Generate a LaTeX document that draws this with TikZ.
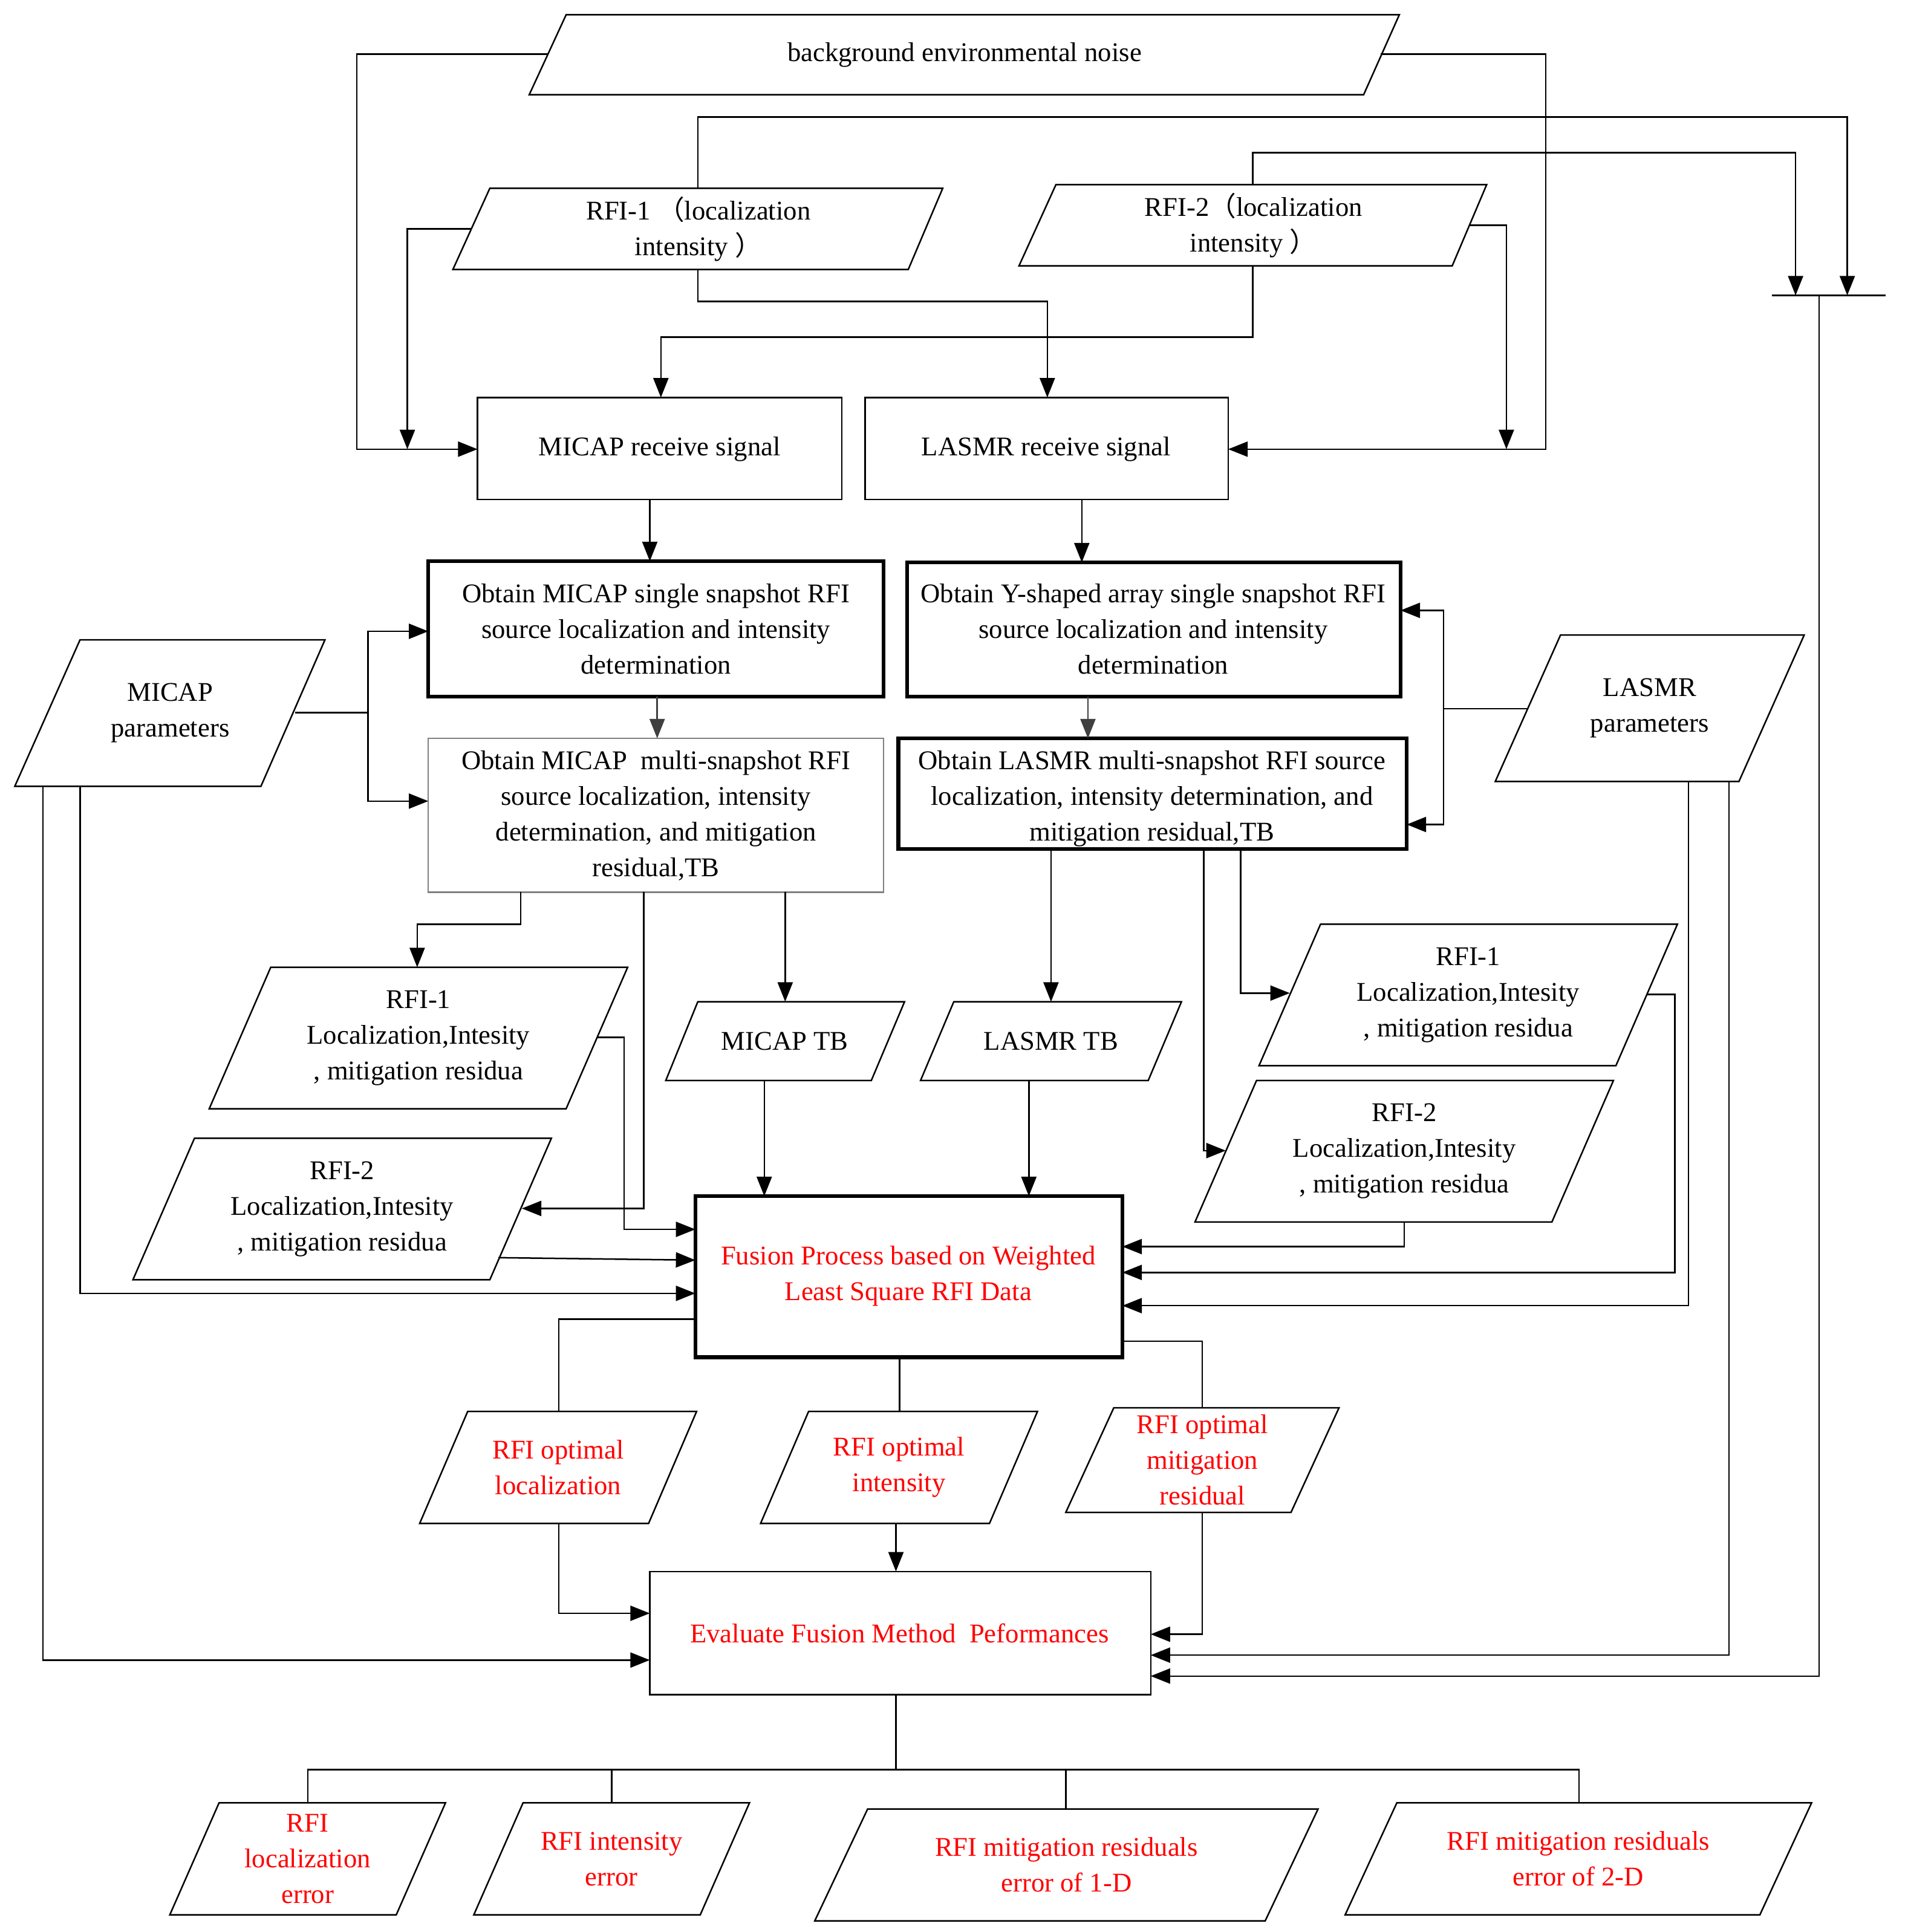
\documentclass[tikz,border=0pt]{standalone}
\usepackage{fontspec}
\setmainfont{Liberation Serif}
\newfontfamily\cjk{Noto Sans CJK SC}
\usetikzlibrary{arrows.meta}
\tikzset{
  ln/.style={line width=0.7pt},
  ar/.style={line width=0.7pt,-{Triangle[length=9pt,width=7pt]}},
  box/.style={line width=0.7pt},
  thick box/.style={line width=1.8pt},
  txt/.style={align=center,font=\fontsize{12.5}{16.5}\selectfont},
  rtxt/.style={txt,text=red}
}
% \para{name}{TLx}{TRx}{BLx}{BRx}{ytop}{ybot}{style}{text}
\newcommand{\para}[9]{%
  \draw[box] (#2,#6) -- (#3,#6) -- (#5,#7) -- (#4,#7) -- cycle;
  \node[#8] (#1) at ({(#2+#3+#4+#5)/4},{(#6+#7)/2}) {#9};}
\begin{document}
\begin{tikzpicture}[x=0.02cm,y=-0.02cm]
\useasboundingbox (0,0) rectangle (1550,1570);
% parallelograms
\para{noise}{460}{1137}{430}{1108}{12}{77}{txt}{background environmental noise}
\para{rfia}{398}{766}{368}{738}{153}{219}{txt}{RFI-1 {\cjk（}localization\\intensity {\cjk）}}
\para{rfib}{858}{1208}{828}{1180}{150}{216}{txt}{RFI-2{\cjk（}localization\\intensity {\cjk）}}
\para{mpar}{65}{264}{12}{212}{520}{639}{txt}{MICAP\\parameters}
\para{lpar}{1268}{1466}{1215}{1413}{516}{635}{txt}{LASMR\\parameters}
\para{l1}{220}{510}{170}{460}{786}{901}{txt}{RFI-1\\Localization,Intesity\\, mitigation residua}
\para{l2}{158}{448}{108}{398}{925}{1040}{txt}{RFI-2\\Localization,Intesity\\, mitigation residua}
\para{mtb}{567}{735}{541}{708}{814}{878}{txt}{MICAP TB}
\para{ltb}{775}{960}{748}{933}{814}{878}{txt}{LASMR TB}
\para{r1}{1073}{1363}{1023}{1313}{751}{866}{txt}{RFI-1\\Localization,Intesity\\, mitigation residua}
\para{r2}{1021}{1311}{971}{1261}{878}{993}{txt}{RFI-2\\Localization,Intesity\\, mitigation residua}
\para{oloc}{380}{566}{341}{527}{1147}{1238}{rtxt}{RFI optimal\\localization}
\para{oint}{657}{843}{618}{804}{1147}{1238}{rtxt}{RFI optimal\\intensity}
\para{omit}{905}{1088}{866}{1049}{1144}{1229}{rtxt}{RFI optimal\\mitigation\\residual}
\para{e1}{178}{362}{138}{322}{1465}{1556}{rtxt}{RFI\\localization\\error}
\para{e2}{425}{609}{385}{569}{1465}{1556}{rtxt}{RFI intensity\\error}
\para{e3}{705}{1071}{662}{1028}{1470}{1561}{rtxt}{RFI mitigation residuals\\error of 1-D}
\para{e4}{1135}{1472}{1093}{1430}{1465}{1556}{rtxt}{RFI mitigation residuals\\error of 2-D}
% rectangles
\draw[box] (388,323) rectangle (684,406); \node[txt] (mrs) at (536,365) {MICAP receive signal};
\draw[box] (703,323) rectangle (998,406); \node[txt] (lrs) at (850,365) {LASMR receive signal};
\draw[thick box] (348,456) rectangle (718,566); \node[txt] (ms) at (533,511) {Obtain MICAP single snapshot RFI\\source localization and intensity\\determination};
\draw[thick box] (737,457) rectangle (1138,566); \node[txt] (ys) at (937,511) {Obtain Y-shaped array single snapshot RFI\\source localization and intensity\\determination};
\draw[box,draw=gray] (348,600) rectangle (718,725); \node[txt] (mm) at (533,663) {Obtain MICAP\ \ multi-snapshot RFI\\source localization, intensity\\determination, and mitigation\\residual,TB};
\draw[thick box] (730,600) rectangle (1143,690); \node[txt] (lm) at (936,649) {Obtain LASMR multi-snapshot RFI source\\localization, intensity determination, and\\mitigation residual,TB};
\draw[thick box] (565,972) rectangle (912,1103); \node[rtxt] (fu) at (738,1037) {Fusion Process based on Weighted\\Least Square RFI Data};
\draw[box] (528,1277) rectangle (935,1377); \node[rtxt] (ev) at (731,1327) {Evaluate Fusion Method\ \ Peformances};
% bus
\draw[ln] (1440,240) coordinate (busl) -- (1532,240) coordinate (busr);
% connectors
\draw[ar] (445,44) -- (290,44) -- (290,365) -- (388,365);
\draw[ar] (1122,44) -- (1256,44) -- (1256,365) -- (998,365);
\draw[ar] (567,153) -- (567,95) -- (1501,95) -- (1501,240);
\draw[ar] (383,186) -- (331,186) -- (331,365);
\draw[ar] (567,219) -- (567,245) -- (851,245) -- (851,323);
\draw[ar] (1018,150) -- (1018,124) -- (1459,124) -- (1459,240);
\draw[ar] (1018,216) -- (1018,274) -- (537,274) -- (537,323);
\draw[ar] (1194,183) -- (1224,183) -- (1224,365);
\draw[ar] (528,406) -- (528,456);
\draw[ar] (879,406) -- (879,457);
\draw[ar,draw=darkgray] (534,566) -- (534,600);
\draw[ar,draw=darkgray] (884,566) -- (884,600);
\draw[ln] (240,579) -- (299,579);
\draw[ar] (299,579) -- (299,513) -- (348,513);
\draw[ar] (299,579) -- (299,651) -- (348,651);
\draw[ln] (1241,576) -- (1173,576);
\draw[ar] (1173,576) -- (1173,496) -- (1138,496);
\draw[ar] (1173,576) -- (1173,670) -- (1143,670);
\draw[ar] (423,725) -- (423,751) -- (339,751) -- (339,786);
\draw[ar] (523,725) -- (523,982) -- (424,982);
\draw[ar] (638,725) -- (638,814);
\draw[ar] (854,690) -- (854,814);
\draw[ar] (978,690) -- (978,935) -- (996,935);
\draw[ar] (1008,690) -- (1008,807) -- (1048,807);
\draw[ar] (485,843) -- (507,843) -- (507,999) -- (565,999);
\draw[ar] (405,1022) -- (565,1024);
\draw[ar] (65,639) -- (65,1051) -- (565,1051);
\draw[ar] (35,639) -- (35,1349) -- (528,1349);
\draw[ar] (621,878) -- (621,972);
\draw[ar] (836,878) -- (836,972);
\draw[ar] (1141,993) -- (1141,1013) -- (912,1013);
\draw[ar] (1338,808) -- (1361,808) -- (1361,1034) -- (912,1034);
\draw[ar] (1372,635) -- (1372,1061) -- (912,1061);
\draw[ar] (1405,635) -- (1405,1345) -- (935,1345);
\draw[ar] (1478,240) -- (1478,1362) -- (935,1362);
\draw[ln] (565,1072) -- (454,1072) -- (454,1147);
\draw[ln] (731,1103) -- (731,1147);
\draw[ln] (912,1090) -- (977,1090) -- (977,1144);
\draw[ar] (454,1238) -- (454,1311) -- (528,1311);
\draw[ar] (728,1238) -- (728,1277);
\draw[ar] (977,1229) -- (977,1328) -- (935,1328);
\draw[ln] (728,1377) -- (728,1438);
\draw[ln] (250,1465) -- (250,1438) -- (1283,1438) -- (1283,1465);
\draw[ln] (497,1438) -- (497,1465);
\draw[ln] (866,1438) -- (866,1470);
\end{tikzpicture}
\end{document}
